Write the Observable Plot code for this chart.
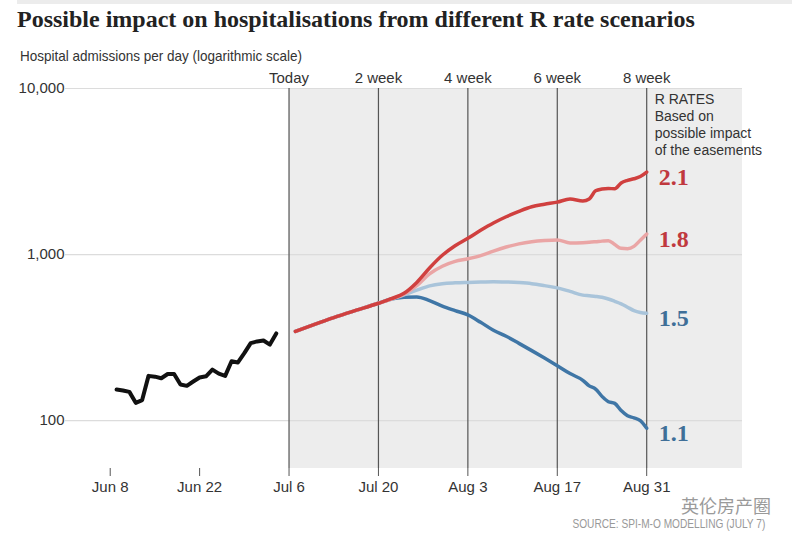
<!DOCTYPE html>
<html>
<head>
<meta charset="utf-8">
<script src="https://cdn.jsdelivr.net/npm/d3@7"></script>
<script src="https://cdn.jsdelivr.net/npm/@observablehq/plot@0.6"></script>
<style>
  html, body { margin: 0; padding: 0; background: #fff; }
  #wrap { position: relative; width: 800px; height: 544px; overflow: hidden; }
  #topbar { position: absolute; left: 17px; top: 0; width: 775px; height: 4px; background: #ececec; }
  #title { position: absolute; left: 17px; top: 6px; font: bold 24px "Liberation Serif", serif; color: #222; white-space: nowrap; }
  #subtitle { position: absolute; left: 20px; top: 47px; font: 15px "Liberation Sans", sans-serif; color: #333; white-space: nowrap; transform: scaleX(0.9); transform-origin: left center; }
  #chart { position: absolute; left: 0; top: 64px; }
  #source { position: absolute; right: 35px; top: 516px; font: 13px "Liberation Sans", sans-serif; color: #999; white-space: nowrap; transform: scaleX(0.78); transform-origin: right center; }
  #mark { position: absolute; left: 681px; top: 494px; font: 18px "Noto Sans CJK SC", sans-serif; line-height: 22px; color: #9a9a9a; white-space: nowrap; }
</style>
</head>
<body>
<div id="wrap">
  <div id="topbar"></div>
  <div id="title">Possible impact on hospitalisations from different R rate scenarios</div>
  <div id="subtitle">Hospital admissions per day (logarithmic scale)</div>
  <div id="chart"></div>
  <div id="mark">英伦房产圈</div>
  <div id="source">SOURCE: SPI-M-O MODELLING (JULY 7)</div>
</div>
<script>
// ---- data ----
const historyDates = ["2020-06-09","2020-06-10","2020-06-11","2020-06-12","2020-06-13","2020-06-14","2020-06-15","2020-06-16","2020-06-17","2020-06-18","2020-06-19","2020-06-20","2020-06-21","2020-06-22","2020-06-23","2020-06-24","2020-06-25","2020-06-26","2020-06-27","2020-06-28","2020-06-29","2020-06-30","2020-07-01","2020-07-02","2020-07-03","2020-07-04"];
const historyValues = [154,152,149,128,133,186,184,180,191,191,165,162,172,182,185,203,192,186,228,224,255,293,300,304,287,335];

const forecastDates = ["2020-07-07","2020-07-10","2020-07-13","2020-07-16","2020-07-20","2020-07-22","2020-07-24","2020-07-26","2020-07-28","2020-07-30","2020-08-01","2020-08-03","2020-08-05","2020-08-07","2020-08-09","2020-08-11","2020-08-13","2020-08-15","2020-08-17","2020-08-19","2020-08-21","2020-08-22","2020-08-23","2020-08-24","2020-08-25","2020-08-26","2020-08-27","2020-08-28","2020-08-29","2020-08-30","2020-08-31"];
const r21 = [345,380,417,455,509,542,585,680,830,990,1130,1253,1400,1550,1690,1820,1940,2010,2070,2160,2100,2160,2420,2480,2500,2490,2700,2800,2860,2950,3140];
const r18 = [345,380,417,455,509,540,578,650,765,850,910,943,986,1050,1110,1160,1195,1215,1225,1175,1180,1186,1195,1205,1213,1150,1090,1085,1120,1220,1330];
const r15 = [345,380,417,455,509,538,572,610,648,668,676,680,683,687,684,678,668,650,630,600,570,565,560,553,540,523,505,482,460,448,443];
const r11 = [345,380,417,455,509,540,553,556,528,490,460,433,391,350,322,292,264,238,214,192,175,162,155,140,130,127,115,107,104,100,90];

const scenarioNames = ["1.1","1.5","1.8","2.1"];
const scenarioSeries = [r11, r15, r18, r21];
const lineColors = ["#3f76a6","#a9c4da","#eaa5a5","#d0403f"];
const labelColors = ["#3f6f98","#3f6f98","#c0393e","#c0393e"];

const tickDates = ["2020-06-08","2020-06-22","2020-07-06","2020-07-20","2020-08-03","2020-08-17","2020-08-31"];
const weekDates = ["2020-07-06","2020-07-20","2020-08-03","2020-08-17","2020-08-31"];
const weekLabels = ["Today","2 week","4 week","6 week","8 week"];
const yTicks = [100, 1000, 10000];
const note = "R RATES\nBased on\npossible impact\nof the easements";

// ---- build ----
const parse = d3.utcParse("%Y-%m-%d");
const history = historyDates.map((d, i) => ({date: parse(d), value: historyValues[i]}));
const forecast = scenarioNames.flatMap((r, k) =>
  forecastDates.map((d, i) => ({r, date: parse(d), value: scenarioSeries[k][i]})));
const endLabels = scenarioNames.map((r, k) => ({r, date: parse(forecastDates[forecastDates.length - 1]), value: scenarioSeries[k][scenarioSeries[k].length - 1]}));
const ticks = tickDates.map(parse);
const weeks = weekDates.map(parse);
const x0 = parse("2020-06-01"), x1 = parse("2020-09-15");
const y0 = 51.5, y1 = 10000;

const chart = Plot.plot({
  width: 800,
  height: 440,
  marginLeft: 65,
  marginRight: 58,
  marginTop: 24,
  marginBottom: 36,
  style: {fontFamily: "'Liberation Sans', sans-serif", fontSize: "15px", color: "#333", background: "transparent"},
  x: {type: "utc", domain: [x0, x1]},
  y: {type: "log", domain: [y0, y1]},
  color: {domain: scenarioNames, range: lineColors},
  marks: [
    Plot.rect([0], {x1: weeks[0], x2: x1, y1: y0, y2: y1, fill: "#ededed"}),
    Plot.ruleY(yTicks, {stroke: "#dcdcdc", strokeWidth: 1.2}),
    Plot.ruleX(weeks, {stroke: "#555", strokeWidth: 1.2}),
    Plot.axisY({ticks: yTicks, tickFormat: d3.format(","), tickSize: 0, tickPadding: 1, label: null, fontSize: 15}),
    Plot.axisX({ticks: ticks, tickFormat: d3.utcFormat("%b %-d"), tickSize: 8, tickPadding: 5, label: null, stroke: "#555", fontSize: 15}),
    Plot.axisX({anchor: "top", ticks: weeks, tickFormat: (d, i) => weekLabels[i], tickSize: 0, tickPadding: 6, label: null, fontSize: 15}),
    Plot.line(history, {x: "date", y: "value", stroke: "#111", strokeWidth: 4, strokeLinejoin: "round"}),
    Plot.line(forecast, {x: "date", y: "value", z: "r", stroke: "r", strokeWidth: 3.5, curve: "monotone-x"}),
    Plot.text([note], {x: weeks[weeks.length - 1], y: y1, text: d => d, dx: 8, dy: 4, textAnchor: "start", lineAnchor: "top", lineHeight: 1.2, fontSize: 14, fill: "#333"}),
    Plot.text(endLabels, {x: "date", y: "value", text: "r", dx: 12, dy: 5, textAnchor: "start", fill: (d, i) => labelColors[scenarioNames.indexOf(d.r)], fontFamily: "'Liberation Serif', serif", fontWeight: "bold", fontSize: 24})
  ]
});
document.getElementById("chart").appendChild(chart);
</script>
</body>
</html>
